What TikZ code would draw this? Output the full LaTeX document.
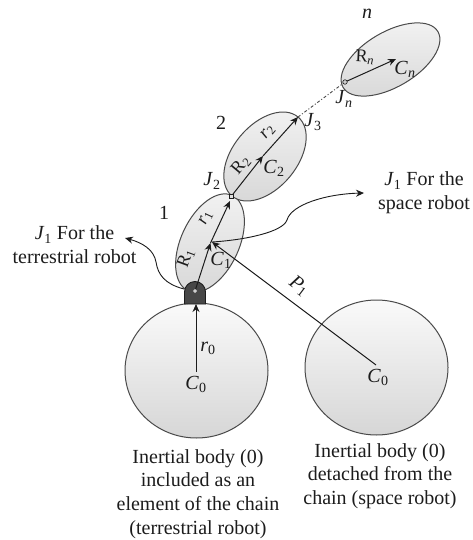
\documentclass[tikz,border=0pt]{standalone}
\usepackage{fontspec}
\setmainfont{Liberation Serif}
\usetikzlibrary{shapes.geometric,arrows.meta}
\definecolor{ink}{HTML}{1C1C1C}
\definecolor{edgegray}{HTML}{4A4A4A}
\newcommand{\symb}[2]{\textit{#1}\textsubscript{#2}}
\tikzset{
  x=1pt,y=-1pt,
  link/.style={ellipse,draw=edgegray,line width=1pt,inner sep=0pt,top color=gray!10,bottom color=gray!30,shading angle=0},
  body/.style={ellipse,draw=edgegray,line width=1pt,inner sep=0pt,top color=gray!4,bottom color=gray!32,minimum width=143pt,minimum height=135pt},
  vec/.style={draw=ink,line width=1pt,-{Stealth[length=8pt,width=7pt]}},
  curved/.style={draw=ink,line width=0.9pt,-{Stealth[length=8pt,width=7pt]}},
  lab/.style={text=ink,inner sep=0pt,font=\fontsize{20}{24}\selectfont},
  small/.style={text=ink,inner sep=0pt,font=\fontsize{18}{20}\selectfont},
  para/.style={text=ink,inner sep=0pt,align=center,font=\fontsize{20}{23.7}\selectfont},
}
\begin{document}
\begin{tikzpicture}
\useasboundingbox (0,0) rectangle (473,540);
% bodies
\node[body] (B0) at (196.5,370.5) {};
\node[body] (B1) at (376.5,367.5) {};
\node[link,minimum width=105pt,minimum height=58pt,rotate=65] (L1) at (210,243) {};
\node[link,minimum width=103pt,minimum height=64pt,rotate=50] (L2) at (265,156.5) {};
\node[link,minimum width=110pt,minimum height=55pt,rotate=30.5] (Ln) at (390.5,59.5) {};
% base joint
\draw[draw=ink,fill=black!72,line width=0.9pt] (184.5,304) -- (184.5,292) arc[start angle=180,end angle=0,radius=10.5pt] -- (205.5,304) -- cycle;
% key points
\coordinate (Base) at (195,291);
\coordinate (C1) at (210.5,243);
\coordinate (J2) at (231.5,196);
\coordinate (C2) at (263,156);
\coordinate (J3) at (298,117);
\coordinate (Jn) at (345,82);
\coordinate (Cn) at (396,59);
\coordinate (O0) at (196,372);
\coordinate (O1) at (376,365);
\coordinate (Ptip) at (212,242);
% vectors
\draw[vec] (O0) -- (196,304);
\draw[vec] (Base) -- (C1);
\draw[vec] (C1) -- (230,201);
\draw[vec] (J2) -- (C2);
\draw[vec] (C2) -- (J3);
\draw[draw=edgegray,line width=0.9pt,dash pattern=on 3pt off 2pt on 1pt off 2pt] (J3) -- (Jn);
\draw[vec] (Jn) -- (Cn);
\draw[vec] (O1) -- (Ptip);
% joints
\node[draw=ink,fill=gray!25,minimum size=4pt,inner sep=0pt,line width=0.6pt] (Jsq) at (J2) {};
\node[circle,draw=ink,fill=gray!40,minimum size=4.5pt,inner sep=0pt,line width=0.6pt] (Jc) at (Jn) {};
\node[circle,draw=gray!60,fill=gray!30,minimum size=3.5pt,inner sep=0pt,line width=0.5pt] (Jb) at (Base) {};
% J1 indicators
\coordinate (SpaceTip) at (364,193);
\coordinate (TerrTip) at (125,238);
\draw[curved] (Ptip) .. controls (245,240) and (283,232) .. (287,220) .. controls (291,205) and (325,194) .. (SpaceTip);
\draw[curved] (184,289) .. controls (165,284) and (158,275) .. (156,262) .. controls (154,250) and (143,243) .. (TerrTip);
% texts
\node[para] (Tspace) at (424,193) {\symb{J}{1} For the\\space robot};
\node[para] (Tterr) at (74.5,245) {\symb{J}{1} For the\\terrestrial robot};
\node[para] (Tleft) at (198,494) {Inertial body (0)\\included as an\\element of the chain\\(terrestrial robot)};
\node[para] (Tright) at (380,476) {Inertial body (0)\\detached from the\\chain (space robot)};
\node[lab] (n1) at (164,213) {1};
\node[lab] (n2) at (221,123) {2};
\node[lab] (nn) at (367,14) {\textit{n}};
\node[lab] (lJ2) at (212,181) {\symb{J}{2}};
\node[lab] (lJ3) at (313,122) {\symb{J}{3}};
\node[lab] (lJn) at (344,99) {\symb{J}{\textit{n}}};
\node[lab] (lC1) at (221,260) {\symb{C}{1}};
\node[lab] (lC2) at (274,168) {\symb{C}{2}};
\node[lab] (lCn) at (405,69) {\symb{C}{\textit{n}}};
\node[lab] (lC0a) at (196,384) {\symb{C}{0}};
\node[lab] (lC0b) at (378,377) {\symb{C}{0}};
\node[lab] (lr0) at (208,348) {\symb{r}{0}};
\node[lab,rotate=-37] (lP1) at (299,286) {\symb{P}{1}};
\node[small,rotate=70] (lR1) at (186,258) {R\textsubscript{1}};
\node[small,rotate=65] (lr1) at (206,218) {\symb{r}{1}};
\node[small,rotate=50] (lR2) at (241,165) {R\textsubscript{2}};
\node[small,rotate=50] (lr2) at (268,132) {\symb{r}{2}};
\node[small,rotate=-3] (lRn) at (365,57) {R\textsubscript{\textit{n}}};
\end{tikzpicture}
\end{document}
